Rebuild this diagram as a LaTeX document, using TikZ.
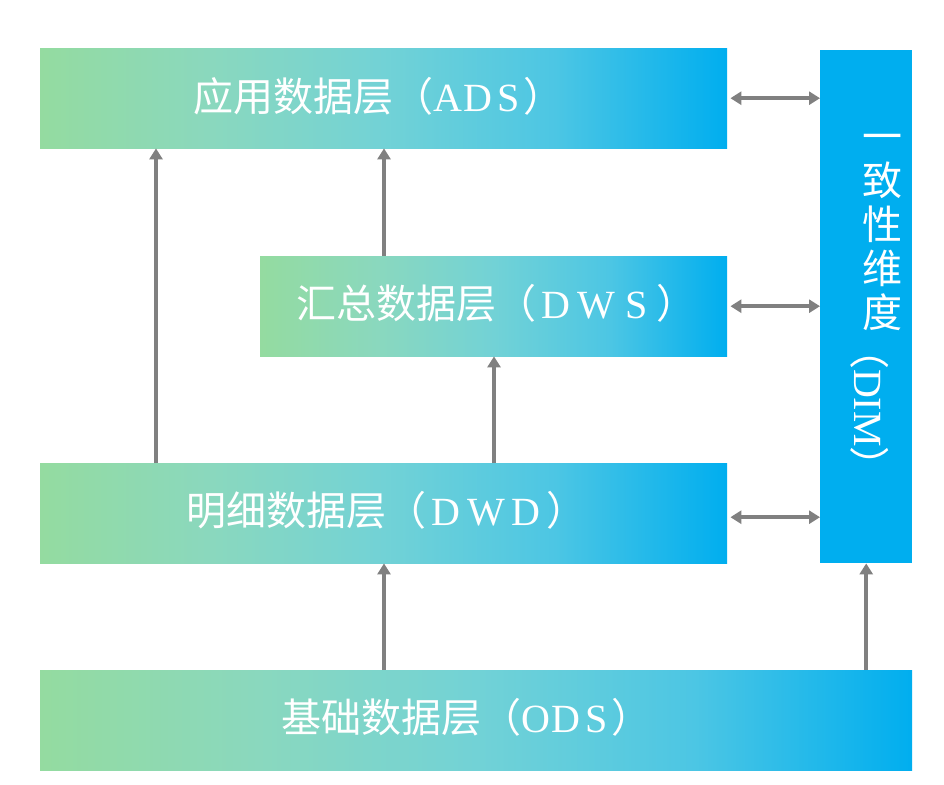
\documentclass[tikz,border=0pt]{standalone}
\usepackage{fontspec}
\setmainfont{Liberation Serif}
\newfontfamily\cjk{Noto Sans CJK SC}
\usetikzlibrary{arrows.meta}
\definecolor{lgreen}{RGB}{148,219,160}
\definecolor{cq}{RGB}{138,216,190}
\definecolor{mcyan}{RGB}{114,210,214}
\definecolor{ctq}{RGB}{76,198,228}
\definecolor{rblue}{RGB}{0,174,239}
\definecolor{agrey}{RGB}{128,128,128}
\pgfdeclarehorizontalshading{layergrad}{100bp}{color(0bp)=(lgreen); color(25bp)=(lgreen); color(37.5bp)=(cq); color(50bp)=(mcyan); color(62.5bp)=(ctq); color(75bp)=(rblue); color(100bp)=(rblue)}
\newcommand{\cellA}[1]{\makebox[30pt]{#1}}
\newcommand{\cellB}[1]{\makebox[40pt]{#1}}
\tikzset{
  layer/.style={rectangle, inner sep=0pt, shading=layergrad, anchor=north west},
  lbl/.style={text=white, font=\fontsize{40}{44}\selectfont, inner sep=0pt},
  conn/.style={draw=agrey, line width=3.6pt, -{Triangle[length=11pt,width=13pt]}},
  biconn/.style={draw=agrey, line width=3.6pt, {Triangle[length=11pt,width=13pt]}-{Triangle[length=11pt,width=13pt]}},
}
\begin{document}
\begin{tikzpicture}[x=1pt,y=-1pt]
\useasboundingbox[fill=white] (0,0) rectangle (944,784);
\node[layer, minimum width=687pt, minimum height=100pt] (ads) at (40,48) {};
\node[lbl, anchor=west] (adst) at (193,96) {{\cjk 应用数据层（}\cellA{A}\cellA{D}\cellA{S}{\cjk ）}};
\node[layer, minimum width=467pt, minimum height=100pt] (dws) at (260,256) {};
\node[lbl, anchor=west] (dwst) at (296,303) {{\cjk 汇总数据层（}\cellB{D}\cellB{W}\cellB{S}{\cjk ）}};
\node[layer, minimum width=687pt, minimum height=100pt] (dwd) at (40,463) {};
\node[lbl, anchor=west] (dwdt) at (186,510) {{\cjk 明细数据层（}\cellB{D}\cellB{W}\cellB{D}{\cjk ）}};
\node[layer, minimum width=872pt, minimum height=100pt] (ods) at (40,670) {};
\node[lbl, anchor=west] (odst) at (281,717) {{\cjk 基础数据层（}\cellA{O}\cellA{D}\cellA{S}{\cjk ）}};
\node[rectangle, fill=rblue, inner sep=0pt, minimum width=92pt, minimum height=513pt, anchor=north west] (dim) at (820,50) {};
\node[lbl, align=center] (dimtxt) at (882,232) {\cjk 一\\\cjk 致\\\cjk 性\\\cjk 维\\\cjk 度};
\node[lbl, rotate=-90] (dimabbr) at (870,408) {{\cjk （}DIM{\cjk ）}};
% connectors
\draw[conn] ([xshift=116pt]dwd.north west) -- ([xshift=116pt]ads.south west);
\draw[conn] ([xshift=124pt]dws.north west) -- ([xshift=344pt]ads.south west);
\draw[conn] ([xshift=454pt]dwd.north west) -- ([xshift=234pt]dws.south west);
\draw[conn] ([xshift=344pt]ods.north west) -- ([xshift=344pt]dwd.south west);
\draw[conn] (ods.north -| dim.south) -- (dim.south);
\draw[biconn] ([xshift=3pt]ads.east) -- (ads.east -| dim.west);
\draw[biconn] ([xshift=3pt]dws.east) -- (dws.east -| dim.west);
\draw[biconn] ([xshift=3pt,yshift=-4pt]dwd.east) -- ([yshift=-4pt]dwd.east -| dim.west);
\end{tikzpicture}
\end{document}
